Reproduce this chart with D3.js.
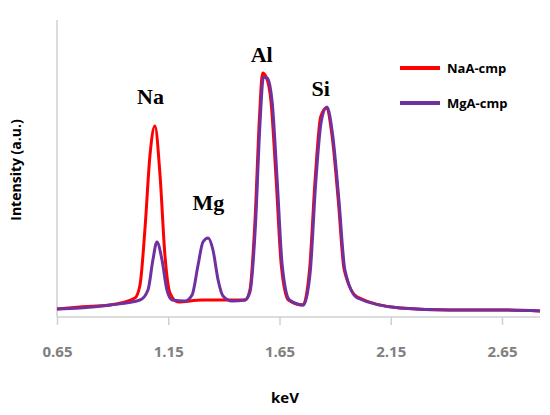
<!DOCTYPE html><html><head><meta charset="utf-8"><script src="https://cdn.jsdelivr.net/npm/d3@7"></script>
<style>body{margin:0;background:#fff}</style></head><body><svg id="c" width="550" height="415"></svg>
<script>
const tickValues=[0.65,1.15,1.65,2.15,2.65];
const seriesNames=["NaA-cmp","MgA-cmp"];
const colors=["#ff0000","#7030a0"];
const naKeV=[0.65,0.753,0.888,1.0,1.023,1.045,1.068,1.09,1.113,1.135,1.158,1.194,1.3,1.495,1.517,1.54,1.56,1.574,1.59,1.612,1.635,1.658,1.69,1.755,1.785,1.81,1.835,1.86,1.887,1.914,1.941,2.0,2.192,2.416,2.641,2.821];
const naVal=[8,10,12,19,32,87,162,191,142,62,24,15,17,17,27,97,200,244,240,215,137,52,17,12,47,137,200,209,180,117,47,20,9,7,7,6];
const mgKeV=[0.65,0.753,0.888,1.023,1.059,1.081,1.099,1.122,1.144,1.167,1.225,1.257,1.284,1.306,1.329,1.351,1.374,1.396,1.437,1.495,1.517,1.542,1.562,1.578,1.595,1.617,1.64,1.662,1.695,1.758,1.788,1.813,1.838,1.863,1.89,1.917,1.944,2.0,2.192,2.416,2.641,2.821];
const mgVal=[8,9,12,17,27,57,75,57,27,17,16,22,52,75,79,67,37,21,16,17,25,92,192,240,239,215,135,52,17,12,45,135,196,210,180,117,47,19,9,7,7,6];
const labels=[{t:"Na",k:1.07,v:213},{t:"Mg",k:1.33,v:107},{t:"Al",k:1.57,v:255},{t:"Si",k:1.835,v:221}];

const svg=d3.select("#c");
const x=d3.scaleLinear().domain([0.65,2.65]).range([57,502]);
const y=d3.scaleLinear().domain([0,297]).range([317,20]);
svg.append("line").attr("x1",57).attr("x2",57).attr("y1",20).attr("y2",317).attr("stroke","#d0d0d0").attr("stroke-width",1.5);
const ax=svg.append("g").attr("transform","translate(0,317)").call(d3.axisBottom(x).tickValues(tickValues).tickFormat(d3.format(".2f")).tickSize(8).tickSizeOuter(0));
ax.select(".domain").attr("d","M57,0H540").attr("stroke","#d0d0d0").attr("stroke-width",1.5);
ax.selectAll(".tick line").attr("stroke","#d0d0d0").attr("stroke-width",1.5);
ax.selectAll("text").attr("dy","1.9em").attr("fill","#808080").style("font","bold 15px 'Open Sans'");
const line=d3.line().x(d=>x(d[0])).y(d=>y(d[1])).curve(d3.curveMonotoneX);
[[naKeV,naVal],[mgKeV,mgVal]].forEach((s,i)=>{
 svg.append("path").datum(d3.zip(s[0],s[1])).attr("d",line).attr("fill","none").attr("stroke",colors[i]).attr("stroke-width",3).attr("stroke-linejoin","round");
});
labels.forEach(l=>svg.append("text").attr("x",x(l.k)).attr("y",y(l.v)).attr("text-anchor","middle").style("font","bold 22px 'Liberation Serif'").text(l.t));
seriesNames.forEach((n,i)=>{
 const yy=68+i*35;
 svg.append("line").attr("x1",400).attr("x2",440).attr("y1",yy).attr("y2",yy).attr("stroke",colors[i]).attr("stroke-width",4);
 svg.append("text").attr("x",447).attr("y",yy+5).style("font","bold 13px 'Open Sans'").text(n);
});
svg.append("text").attr("transform","translate(21,170) rotate(-90)").attr("text-anchor","middle").style("font","bold 14px 'Open Sans'").text("Intensity (a.u.)");
svg.append("text").attr("x",285).attr("y",403).attr("text-anchor","middle").style("font","bold 15px 'Open Sans'").text("keV");
</script></body></html>
